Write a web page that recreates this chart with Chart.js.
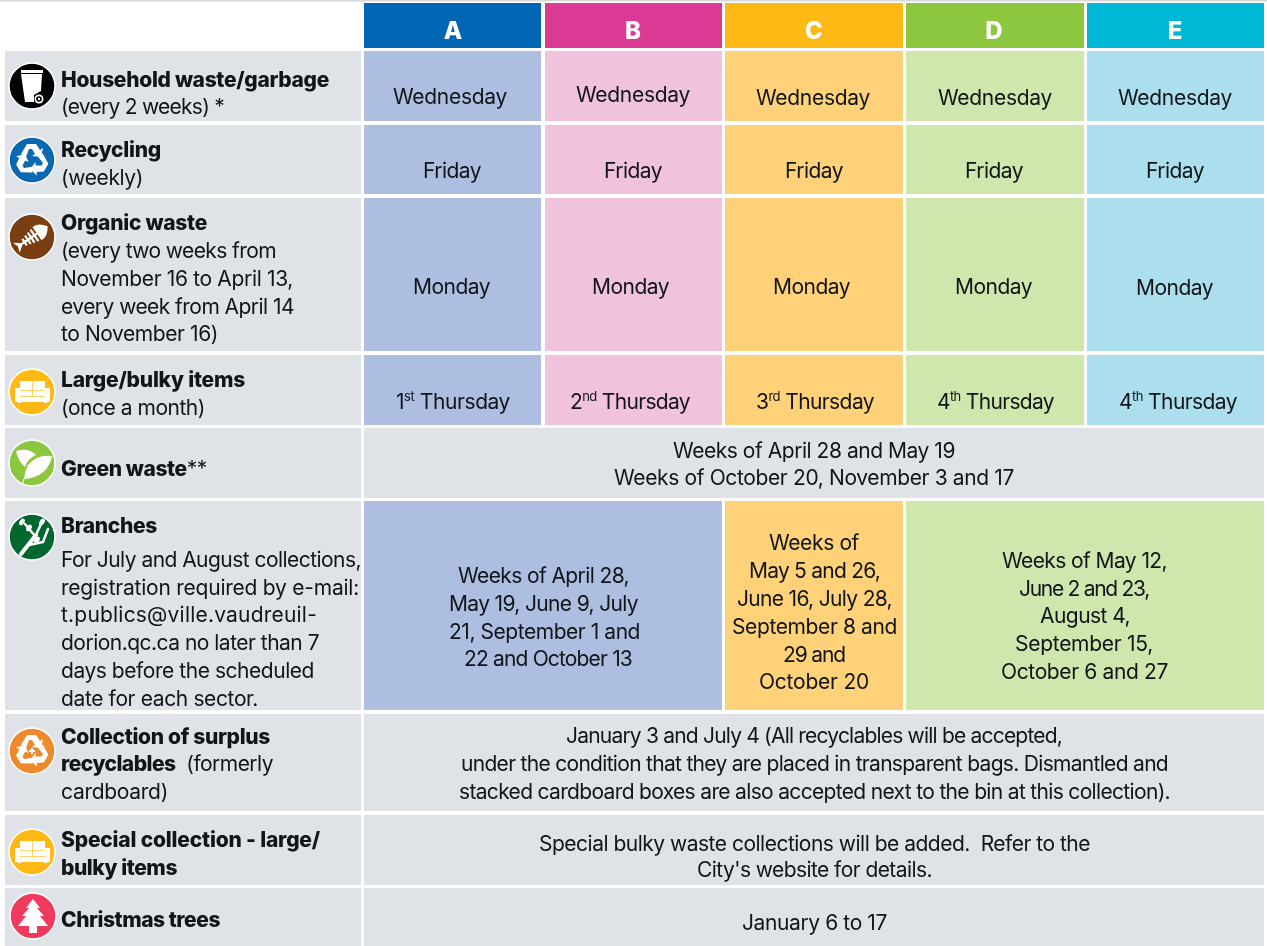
<!DOCTYPE html>
<html>
<head>
<meta charset="utf-8">
<style>
  html, body { margin: 0; padding: 0; background: #fff; overflow: hidden; }
  canvas { display: block; }
</style>
<script src="https://cdn.jsdelivr.net/npm/chart.js@4"></script>
</head>
<body>
<canvas id="scheduleChart" width="1267" height="946"></canvas>
<script>
// Colours per sector
const GREY = "#dfe3e7";
const head = { A: "#0066b3", B: "#db3a94", C: "#ffb914", D: "#8dc63f", E: "#00b7d6" };
const tint = { A: "#aebee0", B: "#f0c2dc", C: "#ffd27a", D: "#cfe6ac", E: "#abdfee" };

// Column edges and row edges of the table
const cols = { L: [5, 361], A: [364, 541], B: [545, 722], C: [725, 903], D: [906, 1084], E: [1087, 1264] };
const rows = [[3, 48], [51, 121], [125, 194], [198, 351], [355, 425], [428, 498], [501, 710], [714, 811], [815, 885], [888, 946]];

// Table cells: row index, from column, to column, colour
const cells = [
  [0, "A", "A", head.A], [0, "B", "B", head.B], [0, "C", "C", head.C], [0, "D", "D", head.D], [0, "E", "E", head.E]
];
[1, 2, 3, 4].forEach(r => {
  ["A", "B", "C", "D", "E"].forEach(c => cells.push([r, c, c, tint[c]]));
});
cells.push([5, "A", "E", GREY]);
cells.push([6, "A", "B", tint.A], [6, "C", "C", tint.C], [6, "D", "E", tint.D]);
cells.push([7, "A", "E", GREY], [8, "A", "E", GREY], [9, "A", "E", GREY]);
for (let r = 1; r < rows.length; r++) cells.push([r, "L", "L", GREY]);

// All text lines: left x, baseline, width on the page, runs
const B = "b", R = "r", S = "s";
const lines = [
  [61, 87, 268, [[B, "Household waste/garbage"]]],
  [61, 114, 163, [[R, "(every 2 weeks) *"]]],
  [61, 157, 100, [[B, "Recycling"]]],
  [61, 185, 82, [[R, "(weekly)"]]],
  [61, 230, 146, [[B, "Organic waste"]]],
  [61, 258, 215, [[R, "(every two weeks from"]]],
  [61, 286, 232, [[R, "November 16 to April 13,"]]],
  [61, 314, 233, [[R, "every week from April 14"]]],
  [61, 341, 157, [[R, "to November 16)"]]],
  [61, 387, 184, [[B, "Large/bulky items"]]],
  [61, 415, 144, [[R, "(once a month)"]]],
  [61, 476, 146, [[B, "Green waste"], [R, "**"]]],
  [61, 533, 96, [[B, "Branches"]]],
  [61, 567, 300, [[R, "For July and August collections,"]]],
  [61, 595, 298, [[R, "registration required by e-mail:"]]],
  [61, 622, 256, [[R, "t.publics@ville.vaudreuil-"]]],
  [61, 650, 258, [[R, "dorion.qc.ca no later than 7"]]],
  [61, 678, 253, [[R, "days before the scheduled"]]],
  [61, 706, 197, [[R, "date for each sector."]]],
  [61, 744, 209, [[B, "Collection of surplus"]]],
  [61, 771, 212, [[B, "recyclables"], [R, "  (formerly"]]],
  [61, 799, 107, [[R, "cardboard)"]]],
  [61, 847, 259, [[B, "Special collection - large/"]]],
  [61, 875, 116, [[B, "bulky items"]]],
  [61, 927, 159, [[B, "Christmas trees"]]],

  [393, 104, 114, [[R, "Wednesday"]]],
  [576, 102, 114, [[R, "Wednesday"]]],
  [756, 105, 114, [[R, "Wednesday"]]],
  [938, 105, 114, [[R, "Wednesday"]]],
  [1118, 105, 114, [[R, "Wednesday"]]],
  [423, 178, 58, [[R, "Friday"]]],
  [604, 178, 58, [[R, "Friday"]]],
  [785, 178, 58, [[R, "Friday"]]],
  [965, 178, 58, [[R, "Friday"]]],
  [1146, 178, 58, [[R, "Friday"]]],
  [413, 294, 77, [[R, "Monday"]]],
  [592, 294, 77, [[R, "Monday"]]],
  [773, 294, 77, [[R, "Monday"]]],
  [955, 294, 77, [[R, "Monday"]]],
  [1136, 295, 77, [[R, "Monday"]]],
  [396, 409, 114, [[R, "1"], [S, "st"], [R, " Thursday"]]],
  [570, 409, 120, [[R, "2"], [S, "nd"], [R, " Thursday"]]],
  [756, 409, 118, [[R, "3"], [S, "rd"], [R, " Thursday"]]],
  [937, 409, 117, [[R, "4"], [S, "th"], [R, " Thursday"]]],
  [1119, 409, 118, [[R, "4"], [S, "th"], [R, " Thursday"]]],
  [673, 458, 282, [[R, "Weeks of April 28 and May 19"]]],
  [614, 485, 400, [[R, "Weeks of October 20, November 3 and 17"]]],
  [458, 583, 171, [[R, "Weeks of April 28,"]]],
  [449, 611, 189, [[R, "May 19, June 9, July"]]],
  [449, 639, 191, [[R, "21, September 1 and"]]],
  [464, 666, 168, [[R, "22 and October 13"]]],
  [769, 550, 90, [[R, "Weeks of"]]],
  [749, 578, 131, [[R, "May 5 and 26,"]]],
  [737, 606, 155, [[R, "June 16, July 28,"]]],
  [732, 634, 165, [[R, "September 8 and"]]],
  [783, 662, 62, [[R, "29 and"]]],
  [759, 689, 110, [[R, "October 20"]]],
  [1002, 568, 165, [[R, "Weeks of May 12,"]]],
  [1019, 596, 130, [[R, "June 2 and 23,"]]],
  [1040, 623, 90, [[R, "August 4,"]]],
  [1015, 651, 138, [[R, "September 15,"]]],
  [1001, 679, 167, [[R, "October 6 and 27"]]],
  [566, 743, 496, [[R, "January 3 and July 4 (All recyclables will be accepted,"]]],
  [461, 771, 707, [[R, "under the condition that they are placed in transparent bags. Dismantled and"]]],
  [459, 799, 711, [[R, "stacked cardboard boxes are also accepted next to the bin at this collection)."]]],
  [539, 851, 551, [[R, "Special bulky waste collections will be added.  Refer to the"]]],
  [697, 877, 235, [[R, "City's website for details."]]],
  [742, 930, 145, [[R, "January 6 to 17"]]]
];

// Icons: centre x, centre y, colour, glyph
const icons = [
  [32, 86, "#000000", "bin"],
  [32, 160, "#0b68b1", "recycle"],
  [32, 237, "#7a3e12", "fish"],
  [32, 392, "#ffb914", "sofa"],
  [32, 463, "#8dc63f", "leaf"],
  [32, 537, "#00672f", "branch"],
  [32, 751, "#ee8a2b", "recyclePlus"],
  [32, 852, "#ffb914", "sofa"],
  [33, 916, "#ef3a5d", "tree"]
];

const FONT = "Inter, 'Noto Sans', sans-serif";

function setFont(ctx, kind, spacing) {
  if (kind === B) ctx.font = "800 21px " + FONT;
  else if (kind === S) ctx.font = "400 13px " + FONT;
  else ctx.font = "400 21px " + FONT;
  ctx.letterSpacing = spacing + "px";
}

// Draw a line of runs, spaced out so it fills its width
function drawLine(ctx, x, y, width, runs) {
  let w = 0;
  let n = 0;
  runs.forEach(r => {
    setFont(ctx, r[0], 0);
    w += ctx.measureText(r[1]).width;
    n += r[1].length;
  });
  const spacing = (width - w) / n;
  runs.forEach(r => {
    setFont(ctx, r[0], spacing);
    ctx.fillText(r[1], x, r[0] === S ? y - 8 : y);
    x += ctx.measureText(r[1]).width;
  });
}

// Icon glyphs, drawn around 0,0 in white
const glyphs = {
  bin(ctx, bg) {
    ctx.fillRect(-11, -16, 22, 3);
    ctx.beginPath();
    ctx.moveTo(-11, -12); ctx.lineTo(10, -12); ctx.lineTo(9, 5); ctx.lineTo(2, 9); ctx.lineTo(2, 16); ctx.lineTo(-7, 16); ctx.closePath();
    ctx.fill();
    ctx.beginPath(); ctx.arc(7, 13, 4.5, 0, Math.PI * 2); ctx.fill();
    ctx.fillStyle = bg;
    ctx.beginPath(); ctx.arc(7, 13, 2.8, 0, Math.PI * 2); ctx.fill();
    ctx.fillStyle = "#fff";
    ctx.beginPath(); ctx.arc(7, 13, 1.2, 0, Math.PI * 2); ctx.fill();
  },
  recycle(ctx) {
    for (let i = 0; i < 3; i++) {
      ctx.save();
      ctx.rotate(i * Math.PI * 2 / 3);
      ctx.beginPath();
      ctx.moveTo(-11, -6); ctx.lineTo(-5, -16); ctx.lineTo(4, -16); ctx.lineTo(8, -10);
      ctx.lineTo(11, -12); ctx.lineTo(9, -3); ctx.lineTo(0, -4); ctx.lineTo(3, -6);
      ctx.lineTo(0, -11); ctx.lineTo(-3, -11); ctx.lineTo(-6, -3); ctx.closePath();
      ctx.fill();
      ctx.restore();
    }
  },
  recyclePlus(ctx, bg) {
    glyphs.recycle(ctx, bg);
    ctx.fillRect(-3, -1, 6, 2);
    ctx.fillRect(-1, -3, 2, 6);
  },
  fish(ctx) {
    ctx.save();
    ctx.rotate(-0.6);
    ctx.beginPath();
    ctx.moveTo(19, 0); ctx.quadraticCurveTo(13, -9, 6, -8); ctx.lineTo(6, 8); ctx.quadraticCurveTo(13, 9, 19, 0);
    ctx.fill();
    ctx.strokeStyle = "#fff";
    ctx.lineWidth = 2.2;
    ctx.beginPath();
    ctx.moveTo(-12, 0); ctx.lineTo(6, 0);
    [3, -1, -5, -9].forEach((x, i) => {
      const h = 7 - i;
      ctx.moveTo(x, -h); ctx.lineTo(x, h);
    });
    ctx.stroke();
    ctx.beginPath();
    ctx.moveTo(-11, 0); ctx.lineTo(-19, -6); ctx.lineTo(-17, 0); ctx.lineTo(-19, 6); ctx.closePath();
    ctx.fill();
    ctx.restore();
  },
  sofa(ctx, bg) {
    ctx.fillRect(-12, -11, 25, 16);
    ctx.fillRect(-17, -4, 5, 14);
    ctx.fillRect(13, -4, 5, 14);
    ctx.fillRect(-17, 5, 35, 5);
    ctx.fillRect(-14, 10, 3, 1);
    ctx.fillRect(12, 10, 3, 1);
    // seams between the cushions
    ctx.fillStyle = bg;
    ctx.globalAlpha = 0.6;
    ctx.fillRect(-12, -2, 25, 1);
    ctx.fillRect(0, -11, 1, 16);
    ctx.fillRect(-12, 4, 25, 1);
    ctx.globalAlpha = 1;
  },
  leaf(ctx) {
    ctx.beginPath();
    ctx.moveTo(-16, -12); ctx.quadraticCurveTo(-4, -16, 4, -8); ctx.quadraticCurveTo(-5, -4, -7, 4); ctx.quadraticCurveTo(-14, -2, -16, -12);
    ctx.fill();
    ctx.beginPath();
    ctx.moveTo(20, -7); ctx.quadraticCurveTo(5, -9, -4, 2); ctx.quadraticCurveTo(-7, 8, -8, 16); ctx.quadraticCurveTo(16, 14, 20, -7);
    ctx.fill();
    ctx.strokeStyle = "#fff";
    ctx.lineWidth = 1.2;
    ctx.beginPath(); ctx.moveTo(-8, 16); ctx.lineTo(-9, 20); ctx.stroke();
  },
  branch(ctx) {
    ctx.strokeStyle = "#fff";
    ctx.lineCap = "round";
    ctx.lineWidth = 4;
    ctx.beginPath(); ctx.moveTo(-11, 17); ctx.lineTo(4, -2); ctx.stroke();
    ctx.lineWidth = 2.5;
    ctx.beginPath();
    ctx.moveTo(4, -2); ctx.lineTo(9, -13);
    ctx.moveTo(3, -1); ctx.lineTo(-7, -13);
    ctx.moveTo(-3, 8); ctx.lineTo(11, 5);
    ctx.moveTo(11, 5); ctx.lineTo(16, -8);
    ctx.stroke();
    [[-10, -15], [-3, -9], [10, -15], [5, 3]].forEach(p => {
      ctx.beginPath(); ctx.ellipse(p[0], p[1], 2.4, 3.6, 0.6, 0, Math.PI * 2); ctx.fill();
    });
    ctx.lineCap = "butt";
  },
  tree(ctx) {
    ctx.beginPath();
    ctx.moveTo(0, -17); ctx.lineTo(7, -8); ctx.lineTo(4, -8); ctx.lineTo(11, 0); ctx.lineTo(7, 0); ctx.lineTo(15, 10);
    ctx.lineTo(4, 10); ctx.lineTo(4, 17); ctx.lineTo(-4, 17); ctx.lineTo(-4, 10); ctx.lineTo(-15, 10);
    ctx.lineTo(-7, 0); ctx.lineTo(-11, 0); ctx.lineTo(-4, -8); ctx.lineTo(-7, -8);
    ctx.closePath();
    ctx.fill();
  }
};

// Text and icon glyphs go on top of the bars
const tablePlugin = {
  id: "tableText",
  afterDatasetsDraw(chart) {
    const ctx = chart.ctx;
    const x = chart.scales.x;
    const y = chart.scales.y;
    ctx.save();
    ctx.textBaseline = "alphabetic";
    ctx.textAlign = "left";

    icons.forEach(ic => {
      ctx.save();
      ctx.translate(x.getPixelForValue(ic[0]), y.getPixelForValue(ic[1]));
      ctx.fillStyle = "#fff";
      glyphs[ic[3]](ctx, ic[2]);
      ctx.restore();
    });

    ctx.fillStyle = "#111418";
    lines.forEach(l => drawLine(ctx, x.getPixelForValue(l[0]), y.getPixelForValue(l[1]), l[2], l[3]));

    // Sector letters
    ctx.fillStyle = "#fff";
    ctx.font = "800 24px " + FONT;
    ctx.letterSpacing = "0px";
    ctx.textAlign = "center";
    [["A", 453], ["B", 633], ["C", 814], ["D", 994], ["E", 1175]].forEach(h => {
      ctx.fillText(h[0], x.getPixelForValue(h[1]), y.getPixelForValue(39));
    });
    ctx.restore();
  }
};

// One bar dataset per cell, since the widths all differ
const datasets = cells.map(c => {
  const x0 = cols[c[1]][0];
  const x1 = cols[c[2]][1];
  const row = rows[c[0]];
  return {
    type: "bar",
    data: [{ x: (x0 + x1) / 2, y: row }],
    backgroundColor: c[3],
    barThickness: x1 - x0,
    grouped: false,
    borderWidth: 0,
    inflateAmount: 0,
    order: 2
  };
});

// Thin grey line along the top of the page
datasets.push({
  type: "bar",
  data: [{ x: 633.5, y: [0, 1.5] }],
  backgroundColor: "#d9d9d9",
  barThickness: 1267,
  grouped: false,
  borderWidth: 0,
  inflateAmount: 0,
  order: 2
});

// Icon discs
datasets.push({
  type: "scatter",
  data: icons.map(ic => ({ x: ic[0], y: ic[1] })),
  backgroundColor: icons.map(ic => ic[2]),
  borderColor: "#fff",
  borderWidth: 1.5,
  pointRadius: 23,
  order: 1
});

new Chart(document.getElementById("scheduleChart"), {
  data: { datasets },
  plugins: [tablePlugin],
  options: {
    responsive: false,
    animation: false,
    layout: { padding: 0, autoPadding: false },
    plugins: { legend: { display: false }, tooltip: { enabled: false }, title: { display: false } },
    scales: {
      x: { type: "linear", min: 0, max: 1267, display: false, offset: false },
      y: { type: "linear", min: 0, max: 946, reverse: true, display: false }
    }
  }
});
</script>
</body>
</html>
